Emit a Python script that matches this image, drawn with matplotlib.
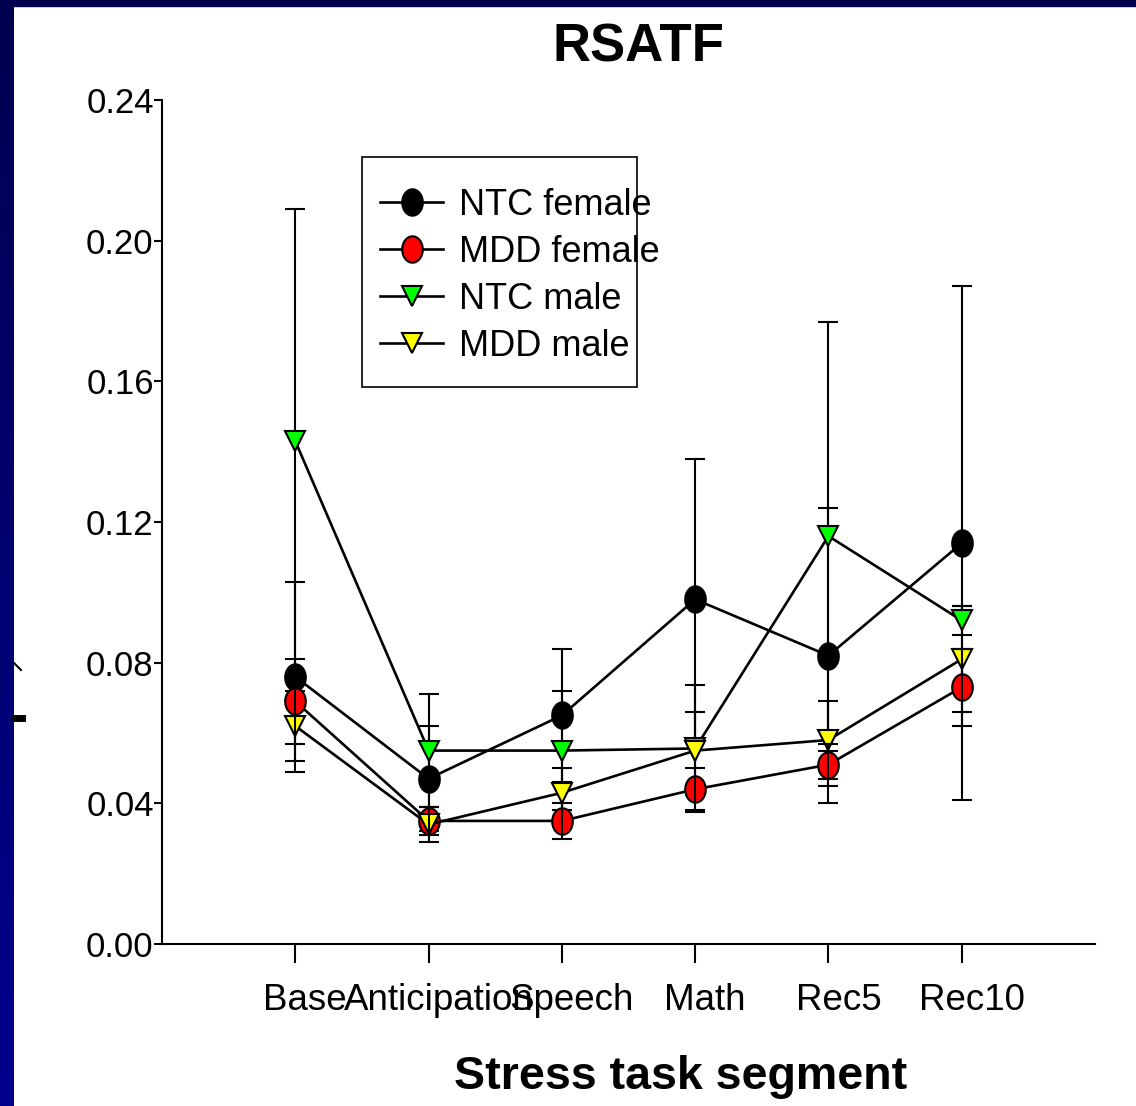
import numpy as np
import matplotlib
matplotlib.use("Agg")
import matplotlib.pyplot as plt
import matplotlib.transforms as mtransforms
from matplotlib.path import Path
from matplotlib.patches import Rectangle
from matplotlib.lines import Line2D
from matplotlib.colors import LinearSegmentedColormap

plt.rcParams['font.family'] = ['Liberation Sans', 'DejaVu Sans']

segments = ['Base', 'Anticipation', 'Speech', 'Math', 'Rec5', 'Rec10']
yticks = [0.00, 0.04, 0.08, 0.12, 0.16, 0.20, 0.24]

ntc_female = [0.076, 0.047, 0.065, 0.098, 0.082, 0.114]
ntc_female_err = [0.027, 0.015, 0.019, 0.040, 0.042, 0.073]
mdd_female = [0.069, 0.035, 0.035, 0.044, 0.051, 0.073]
mdd_female_err = [0.012, 0.004, 0.005, 0.006, 0.006, 0.011]
ntc_male = [0.143, 0.055, 0.055, 0.0556, 0.116, 0.092]
ntc_male_err = [0.066, 0.016, 0.017, 0.018, 0.061, 0.004]
mdd_male = [0.062, 0.034, 0.043, 0.055, 0.058, 0.081]
mdd_male_err = [0.010, 0.005, 0.007, 0.011, 0.011, 0.015]

# tall ellipse marker like the original
t = np.linspace(0, 2 * np.pi, 64)
ellipse = Path(np.column_stack([0.78 * np.cos(t), np.sin(t)]), closed=True)

fig = plt.figure(figsize=(11.36, 11.06), dpi=100)
fig.patch.set_facecolor('white')

# blue slide border (left + top)
bx = fig.add_axes([0, 0, 14 / 1136, 1])
grad = np.linspace(0, 1, 256).reshape(-1, 1)
cm = LinearSegmentedColormap.from_list('b', ['#00008e', '#000050'])
bx.imshow(grad, aspect='auto', cmap=cm, origin='lower')
bx.axis('off')
fig.patches.append(Rectangle((0, 1 - 6 / 1106), 1, 6 / 1106, transform=fig.transFigure,
                             color='#000050', zorder=5))
# bits of a cut-off y label
fig.lines.append(Line2D([14 / 1136, 22 / 1136], [1 - 718 / 1106, 1 - 718 / 1106],
                        transform=fig.transFigure, color='black', lw=5))
fig.lines.append(Line2D([14 / 1136, 21 / 1136], [1 - 663 / 1106, 1 - 670 / 1106],
                        transform=fig.transFigure, color='black', lw=1.5))

ax = fig.add_axes([162 / 1136, 1 - 944 / 1106, (1095 - 162) / 1136, (944 - 100) / 1106])
x = np.arange(1, len(segments) + 1)

series = [
    ('NTC female', ntc_female, ntc_female_err, ellipse, 19, 'black', 3),
    ('MDD female', mdd_female, mdd_female_err, ellipse, 19, '#ff0000', 6),
    ('NTC male', ntc_male, ntc_male_err, 'v', 15, '#00ff00', 3),
    ('MDD male', mdd_male, mdd_male_err, 'v', 15, '#ffff00', 3),
]
handles = []
for i, (name, vals, err, mk, ms, col, ez) in enumerate(series):
    ln, = ax.plot(x, vals, '-', color='black', lw=1.9, marker=mk, ms=ms,
                  mfc=col, mec='black', mew=1.5, zorder=4 + i * 0.1, clip_on=False)
    ax.errorbar(x, vals, yerr=err, fmt='none', ecolor='black', elinewidth=1.5,
                capsize=7.2, capthick=1.5, zorder=ez, clip_on=False)
    handles.append(ln)

ax.set_xlim(0, 7)
ax.set_ylim(0, 0.24)
ax.set_yticks(yticks)
ax.set_yticklabels(['%.2f' % v for v in yticks])
ax.set_xticks(x)
ax.set_xticklabels(segments)
ax.spines['top'].set_visible(False)
ax.spines['right'].set_visible(False)
ax.spines['left'].set_linewidth(1.5)
ax.spines['bottom'].set_linewidth(1.5)
ax.tick_params(axis='y', labelsize=25, length=6, width=1.5, pad=0)
ax.tick_params(axis='x', labelsize=26.5, length=14, width=1.5, pad=14)
shift = mtransforms.ScaledTranslation(10 / 100, 0, fig.dpi_scale_trans)
for lab in ax.get_xticklabels():
    lab.set_transform(lab.get_transform() + shift)

leg = ax.legend(handles, [s[0] for s in series], loc='upper left',
                bbox_to_anchor=((380 - 162) / 933, (944 - 188) / 844),
                frameon=False, fontsize=26, borderpad=0, borderaxespad=0,
                handlelength=1.75, handletextpad=0.45, labelspacing=0.33)
ax.add_patch(Rectangle((200 / 933, (944 - 387) / 844), 275 / 933, 230 / 844,
                       transform=ax.transAxes, fill=False, ec='black', lw=1.2,
                       zorder=2))

fig.text(638 / 1136, 1 - 47 / 1106, 'RSATF', ha='center', va='center',
         fontsize=38, fontweight='bold')
fig.text(681 / 1136, 1 - 1077 / 1106, 'Stress task segment', ha='center',
         va='center', fontsize=33.5, fontweight='bold')

fig.savefig('out.png', dpi=100)
